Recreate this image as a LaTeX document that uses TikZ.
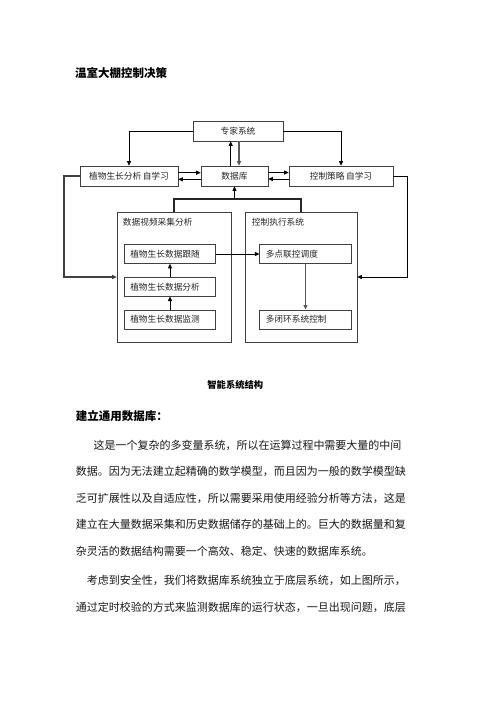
\documentclass[tikz,border=0pt]{standalone}
\usepackage{fontspec}
\setmainfont{Noto Sans CJK SC}
\usetikzlibrary{arrows.meta,calc}
\XeTeXlinebreaklocale "zh"
\XeTeXlinebreakskip=0pt plus 3pt
\tikzset{
  dfont/.style={font=\fontsize{8.7}{10}\selectfont},
  box/.style={draw=black!75, line width=0.6pt, minimum height=20pt, inner sep=0pt, text=black!85, dfont},
  outerbox/.style={draw=black!75, line width=0.6pt, inner sep=0pt},
  inbox/.style={draw=black!75, line width=0.6pt, minimum height=19pt, inner xsep=6pt, inner ysep=0pt, text width=79.5pt, align=left, text=black!85, dfont},
  lbl/.style={anchor=west, inner sep=0pt, text=black!85, dfont},
  arr/.style={-{Triangle[length=4.5pt,width=4pt]}, line width=0.8pt, black},
  garr/.style={-{Triangle[length=4.5pt,width=4pt]}, line width=1.3pt, black!65},
  bodyline/.style={anchor=west, inner sep=0pt, align=justify, text=black!90, font=\fontsize{11}{13}\selectfont},
  plainline/.style={anchor=west, inner sep=0pt, text=black!90, font=\fontsize{11}{13}\selectfont},
  heavy/.style={anchor=west, inner sep=0pt, text=black, font=\fontsize{11.5}{13}\selectfont\bfseries},
}
\begin{document}
\begin{tikzpicture}[x=1pt,y=-1pt]
\useasboundingbox[fill=white] (0,0) rectangle (496,702);

% title
\node[heavy] (title) at (75,73) {温室大棚控制决策};

% top row
\node[box, minimum width=90pt] (expert) at (238,131) {专家系统};
\node[box, minimum width=98pt] (plantlearn) at (129,176) {植物生长分析\,自学习};
\node[box, minimum width=67pt] (db) at (234.5,176) {数据库};
\node[box, minimum width=104pt] (ctrllearn) at (341,176) {控制策略\,自学习};

% outer boxes
\node[outerbox, minimum width=114pt, minimum height=130pt] (dataouter) at (174,277) {};
\node[outerbox, minimum width=112pt, minimum height=130pt] (ctrlouter) at (301,277) {};
\node[lbl] (datalbl) at (122.7,221.7) {数据视频采集分析};
\node[lbl] (ctrllbl) at (251.7,221.7) {控制执行系统};

% inner boxes
\node[inbox] (follow) at (170,254) {植物生长数据跟随};
\node[inbox] (analyze) at (170,286.7) {植物生长数据分析};
\node[inbox] (monitor) at (170,319.3) {植物生长数据监测};
\node[inbox] (multi) at (305.5,254) {多点联控调度};
\node[inbox] (closed) at (305.5,319.3) {多闭环系统控制};

% coordinates
\coordinate (busy) at (0,199);
\coordinate (lloop) at (64,0);
\coordinate (rloop) at (407.3,0);

% connectors
\draw[arr] (expert.west) -| (plantlearn.north);
\draw[arr] (expert.east) -| (ctrllearn.north);
\draw[arr] ([xshift=-3.8pt]db.north) -- ([xshift=-3.8pt]db.north |- expert.south);
\draw[garr] ([xshift=4.5pt]db.north |- expert.south) -- ([xshift=4.5pt]db.north);
\draw[arr] ([yshift=3.3pt]plantlearn.east) -- ([yshift=3.3pt]plantlearn.east -| db.west);
\draw[arr] ([yshift=-3.3pt]db.west) -- ([yshift=-3.3pt]db.west -| plantlearn.east);
\draw[arr] ([yshift=3.5pt]db.east) -- ([yshift=3.5pt]db.east -| ctrllearn.west);
\draw[arr] ([yshift=-3pt]ctrllearn.west) -- ([yshift=-3pt]ctrllearn.west -| db.east);
\draw[line width=1.1pt, black!85] (dataouter.north) |- (busy -| db.south) -| (ctrlouter.north);
\draw[arr] (busy -| db.south) -- (db.south);
\draw[arr] (follow.east) -- (multi.west);
\draw[arr] (analyze.north) -- (follow.south);
\draw[arr] (monitor.north) -- (analyze.south);
\draw[garr] (multi.south) -- (closed.north);
\draw[garr, black!75] (plantlearn.west) -| (lloop |- dataouter.west) -- (dataouter.west);
\draw[arr, line width=0.9pt] (ctrllearn.east) -| (rloop |- ctrlouter.east) -- (ctrlouter.east);

% caption and text
\node[inner sep=0pt, font=\fontsize{9.3}{11}\selectfont\bfseries] (caption) at (235.3,385) {智能系统结构};
\node[heavy] (heading) at (75.7,416.5) {建立通用数据库：};

\node[bodyline, text width=326.7pt] (l1) at (93.3,445) {\noindent\parfillskip=0pt 这是一个复杂的多变量系统，所以在运算过程中需要大量的中间};
\node[bodyline, text width=344.3pt] (l2) at (75.7,471.5) {\noindent\parfillskip=0pt 数据。因为无法建立起精确的数学模型，而且因为一般的数学模型缺};
\node[bodyline, text width=344.3pt] (l3) at (75.7,498) {\noindent\parfillskip=0pt 乏可扩展性以及自适应性，所以需要采用使用经验分析等方法，这是};
\node[bodyline, text width=344.3pt] (l4) at (75.7,524.5) {\noindent\parfillskip=0pt 建立在大量数据采集和历史数据储存的基础上的。巨大的数据量和复};
\node[plainline] (l5) at (75.7,551) {杂灵活的数据结构需要一个高效、稳定、快速的数据库系统。};
\node[bodyline, text width=332pt] (l6) at (86.7,580) {\noindent\parfillskip=0pt 考虑到安全性，我们将数据库系统独立于底层系统，如上图所示，};
\node[bodyline, text width=344.3pt] (l7) at (75.7,607) {\noindent\parfillskip=0pt 通过定时校验的方式来监测数据库的运行状态，一旦出现问题，底层};
\end{tikzpicture}
\end{document}
